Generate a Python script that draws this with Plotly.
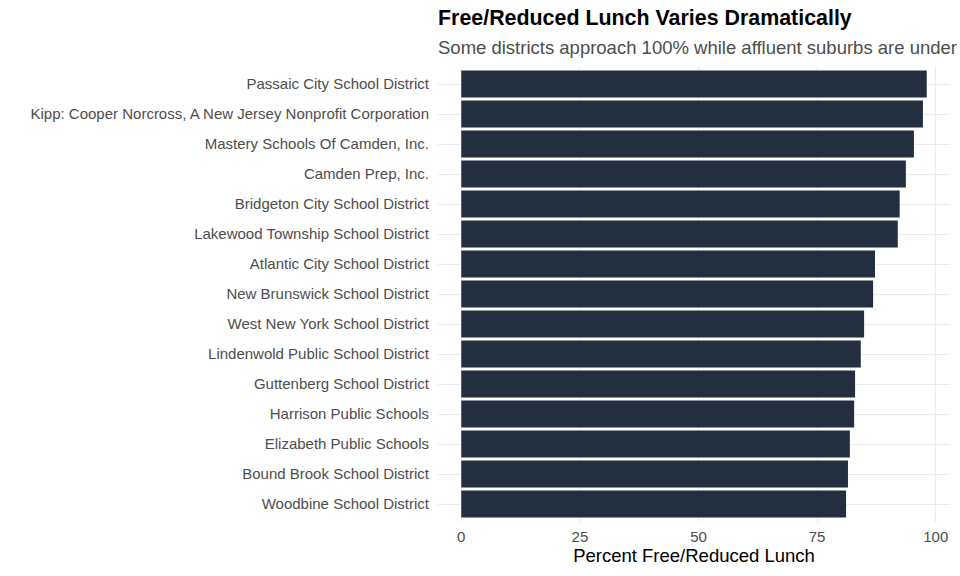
import plotly.graph_objects as go

districts = [
    "Passaic City School District",
    "Kipp: Cooper Norcross, A New Jersey Nonprofit Corporation",
    "Mastery Schools Of Camden, Inc.",
    "Camden Prep, Inc.",
    "Bridgeton City School District",
    "Lakewood Township School District",
    "Atlantic City School District",
    "New Brunswick School District",
    "West New York School District",
    "Lindenwold Public School District",
    "Guttenberg School District",
    "Harrison Public Schools",
    "Elizabeth Public Schools",
    "Bound Brook School District",
    "Woodbine School District",
]
pct_free_reduced = [98.1, 97.3, 95.4, 93.7, 92.4, 92.0, 87.2, 86.8, 84.9, 84.2,
                    83.0, 82.8, 81.9, 81.5, 81.1]
x_ticks = [0, 25, 50, 75, 100]

title_text = "Free/Reduced Lunch Varies Dramatically"
subtitle_text = "Some districts approach 100% while affluent suburbs are under"

FONT = "Liberation Sans, Arial, sans-serif"

fig = go.Figure(go.Bar(
    x=pct_free_reduced,
    y=districts,
    orientation="h",
    marker=dict(color="#232f3e", line=dict(width=0)),
))

xmax = max(pct_free_reduced)
pad = 0.05 * xmax

fig.update_layout(
    width=960, height=576,
    margin=dict(l=438, r=10, t=66, b=54),
    paper_bgcolor="white", plot_bgcolor="white",
    bargap=0.1,
    showlegend=False,
    font=dict(family=FONT),
    xaxis=dict(
        range=[-pad, xmax + pad],
        tickvals=x_ticks,
        ticktext=[str(v) for v in x_ticks],
        showgrid=True, gridcolor="#ebebeb", gridwidth=1.2,
        zeroline=False, showline=False, automargin=False,
        ticks="outside", ticklen=1, tickcolor="rgba(0,0,0,0)",
        tickfont=dict(size=15, color="#4d4d4d", family=FONT),
        title=dict(text="Percent Free/Reduced Lunch", standoff=2,
                   font=dict(size=18.5, color="black", family=FONT)),
    ),
    yaxis=dict(
        categoryorder="array", categoryarray=districts,
        range=[len(districts) - 0.4, -0.6],
        showgrid=True, gridcolor="#ebebeb", gridwidth=1.2,
        zeroline=False, showline=False, automargin=False,
        ticks="outside", ticklen=5, tickcolor="rgba(0,0,0,0)",
        tickfont=dict(size=15, color="#4d4d4d", family=FONT),
    ),
    annotations=[
        dict(text="<b>" + title_text + "</b>",
             xref="paper", yref="paper", x=0, y=1, xanchor="left", yanchor="middle",
             xshift=-2, yshift=48, showarrow=False,
             font=dict(size=21.4, color="black", family=FONT)),
        dict(text=subtitle_text,
             xref="paper", yref="paper", x=0, y=1, xanchor="left", yanchor="middle",
             xshift=-2, yshift=19, showarrow=False,
             font=dict(size=18.5, color="#4d4d4d", family=FONT)),
    ],
)

fig.write_html("out.html", config={"displayModeBar": False},
               post_script="document.body.style.margin='0px';")
